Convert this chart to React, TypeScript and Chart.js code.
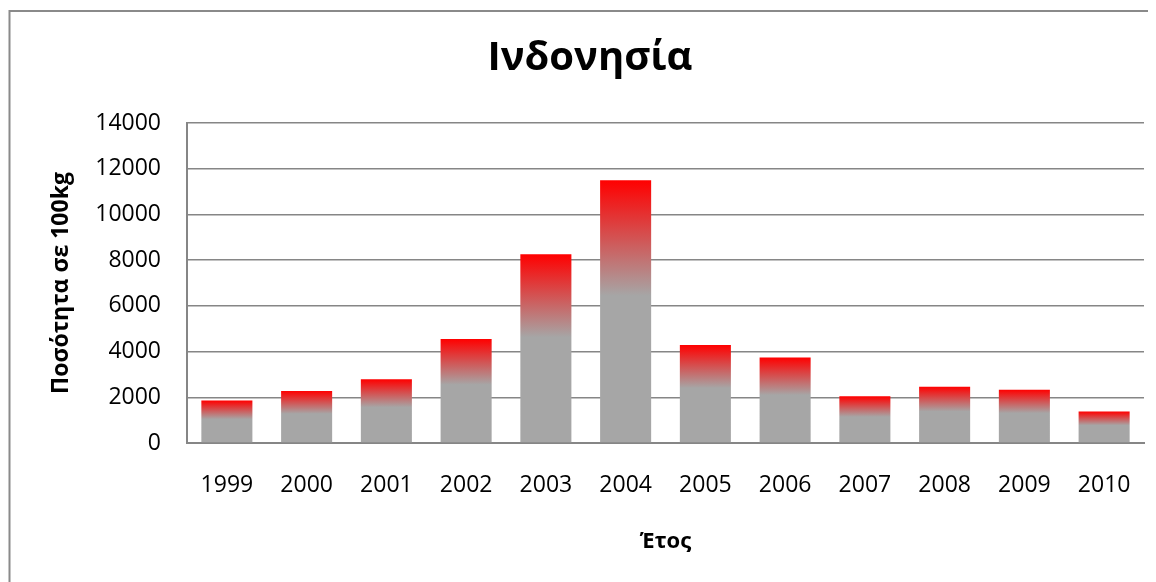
import React, { useEffect, useRef } from "react";
import { Chart, registerables } from "chart.js";

Chart.register(...registerables);

const categories = ["1999", "2000", "2001", "2002", "2003", "2004", "2005", "2006", "2007", "2008", "2009", "2010"];
const quantities = [1860, 2280, 2790, 4550, 8260, 11500, 4290, 3740, 2040, 2465, 2335, 1380];
const titleText = "Ινδονησία";
const yAxisTitle = "Ποσότητα σε 100kg";
const xAxisTitle = "Έτος";

const FONT = "'Open Sans', 'Noto Sans', sans-serif";
const GRID = "#868686";

const frame = {
  id: "frame",
  beforeDraw(chart: any) {
    const c = chart.ctx;
    c.save();
    c.fillStyle = "#ffffff";
    c.fillRect(0, 0, chart.width, chart.height);
    c.strokeStyle = "#8a8a8a";
    c.lineWidth = 2;
    c.strokeRect(1.5, 3, chart.width + 10, chart.height + 10);
    c.restore();
  },
};

export default function App() {
  const ref = useRef<HTMLCanvasElement>(null);
  useEffect(() => {
    if (!ref.current) return;
    const chart = new Chart(ref.current, {
      type: "bar",
      data: {
        labels: categories,
        datasets: [
          {
            data: quantities,
            barPercentage: 0.64,
            categoryPercentage: 1,
            borderWidth: 0,
            backgroundColor: (ctx: any) => {
              const ch = ctx.chart;
              if (!ch.chartArea || ctx.type !== "data") return "#a6a6a6";
              const y = ch.scales.y;
              const top = y.getPixelForValue(ctx.raw);
              const bot = y.getPixelForValue(0);
              if (!isFinite(top) || !isFinite(bot) || bot - top < 1) return "#a6a6a6";
              const g = ch.ctx.createLinearGradient(0, top, 0, bot);
              g.addColorStop(0, "#ff0000");
              g.addColorStop(0.44, "#a6a6a6");
              g.addColorStop(1, "#a6a6a6");
              return g;
            },
          },
        ],
      },
      options: {
        responsive: false,
        animation: false,
        layout: { padding: { left: 0, right: 0, top: 0, bottom: 33 } },
        plugins: {
          legend: { display: false },
          tooltip: { enabled: false },
          title: {
            display: true,
            text: titleText,
            color: "#000",
            font: { family: FONT, size: 40, weight: "bold" },
            padding: { top: 27, bottom: 40 },
          },
        },
        scales: {
          x: {
            grid: { display: false, drawTicks: false },
            border: { display: true, color: GRID, width: 2 },
            ticks: { color: "#000", font: { family: FONT, size: 23 }, padding: 29 },
            title: {
              display: true,
              text: xAxisTitle,
              color: "#000",
              font: { family: FONT, size: 22, weight: "bold" },
              padding: { top: 0, bottom: 0 },
            },
          },
          y: {
            min: 0,
            max: 14000,
            afterFit: (s: any) => {
              s.width = 179;
            },
            ticks: {
              stepSize: 2000,
              color: "#000",
              font: { family: FONT, size: 23 },
              padding: 26,
              callback: (v: any) => String(v),
            },
            grid: { color: GRID, lineWidth: 1.5, drawTicks: false },
            border: { display: true, color: GRID, width: 2 },
            title: {
              display: true,
              text: yAxisTitle,
              color: "#000",
              font: { family: FONT, size: 23, weight: "bold" },
              padding: { top: 40, bottom: 0 },
            },
          },
          y2: {
            position: "right",
            display: true,
            grid: { display: false, drawTicks: false },
            border: { display: false },
            ticks: { display: false },
            afterFit: (s: any) => {
              s.width = 28;
            },
          },
        },
      },
      plugins: [frame],
    });
    return () => chart.destroy();
  }, []);
  return (
    <div style={{ width: 1148, height: 574, overflow: "hidden" }}>
      <canvas ref={ref} width={1164} height={580} style={{ display: "block" }} />
    </div>
  );
}
